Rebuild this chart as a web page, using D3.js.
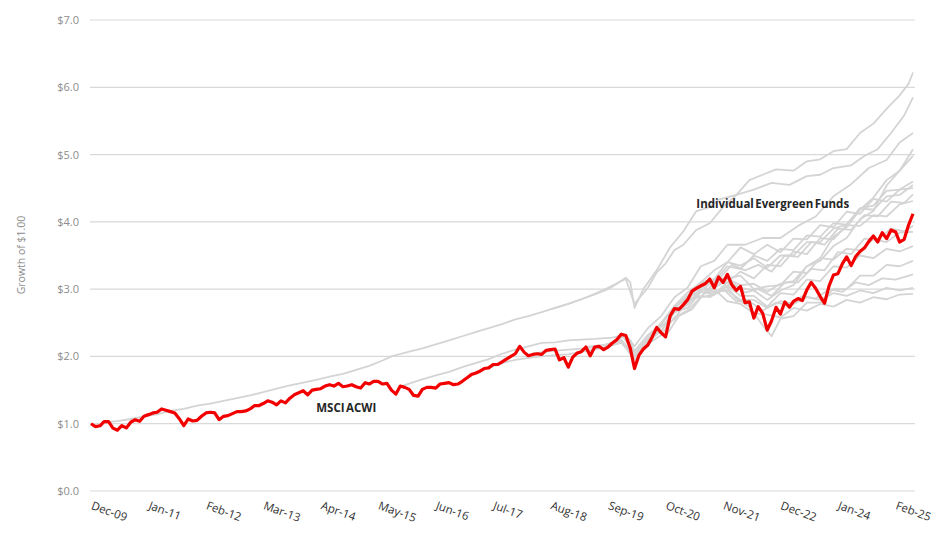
<!DOCTYPE html>
<html>
<head>
<meta charset="utf-8">
<script src="https://cdn.jsdelivr.net/npm/d3@7"></script>
<style>
  html, body { margin: 0; padding: 0; background: #ffffff; }
  svg { display: block; }
</style>
</head>
<body>
<svg id="chart" width="936" height="535"></svg>
<script>
// ---------- DATA ----------
const startMonth = "Dec-09";           // month index 0
const xTickLabels = ["Dec-09","Jan-11","Feb-12","Mar-13","Apr-14","May-15","Jun-16","Jul-17","Aug-18","Sep-19","Oct-20","Nov-21","Dec-22","Jan-24","Feb-25"];
const yTickValues = [0,1,2,3,4,5,6,7];
const yAxisTitle = "Growth of $1.00";
const acwiLabel = "MSCI ACWI";
const fundsLabel = "Individual Evergreen Funds";

// MSCI ACWI, monthly growth of $1, Dec-09 .. Jun-25
const acwi = [
  1.00,
  0.956,0.969,1.030,1.031,0.935,0.904,0.972,0.937,1.022,1.059,1.036,1.112,
  1.135,1.160,1.170,1.220,1.200,1.180,1.160,1.075,0.970,1.070,1.040,1.050,
  1.110,1.160,1.170,1.160,1.060,1.110,1.120,1.150,1.180,1.180,1.190,1.220,
  1.270,1.270,1.300,1.340,1.320,1.280,1.340,1.310,1.380,1.430,1.460,1.490,
  1.430,1.500,1.510,1.520,1.560,1.580,1.560,1.600,1.550,1.560,1.580,1.550,
  1.530,1.610,1.590,1.630,1.630,1.590,1.600,1.500,1.440,1.560,1.540,1.510,
  1.420,1.410,1.510,1.540,1.540,1.530,1.590,1.600,1.610,1.580,1.590,1.630,
  1.680,1.730,1.750,1.780,1.820,1.830,1.880,1.880,1.920,1.960,2.000,2.040,
  2.150,2.060,2.010,2.030,2.040,2.030,2.090,2.100,2.110,1.950,1.980,1.840,
  1.990,2.050,2.070,2.140,2.010,2.140,2.150,2.100,2.140,2.200,2.250,2.330,
  2.310,2.120,1.820,2.020,2.110,2.170,2.290,2.430,2.350,2.290,2.600,2.710,
  2.700,2.770,2.840,2.970,3.010,3.050,3.080,3.150,3.020,3.180,3.100,3.220,
  3.060,2.980,3.040,2.800,2.810,2.570,2.740,2.640,2.390,2.530,2.730,2.630,
  2.810,2.730,2.820,2.860,2.830,2.990,3.100,3.010,2.890,2.790,3.050,3.210,
  3.230,3.380,3.480,3.350,3.480,3.560,3.610,3.710,3.790,3.700,3.840,3.750,
  3.880,3.850,3.700,3.740,3.950,4.120
];

// Individual evergreen funds: [month index from Dec-09, growth of $1]
const fundA = [[3,1.02],[6,1.04],[9,1.07],[12,1.11],[15,1.14],[18,1.19],[21,1.22],[24,1.27],[27,1.30],[30,1.34],[33,1.38],[36,1.42],[39,1.47],[42,1.52],[45,1.57],[48,1.61],[51,1.65],[54,1.70],[57,1.74],[60,1.80],[63,1.86],[66,1.94],[68,2.00],[72,2.07],[75,2.12],[78,2.18],[81,2.24],[84,2.30],[87,2.36],[90,2.42],[93,2.48],[96,2.55],[99,2.60],[102,2.66],[105,2.72],[108,2.78],[111,2.85],[114,2.92],[117,3.00],[119,3.08],[121,3.17],[122,3.10],[123,2.72],[125,3.00],[128,3.28],[131,3.62],[134,3.86],[137,4.16],[140,4.22],[142,4.33],[146,4.40],[150,4.48],[154,4.58],[158,4.55],[162,4.68],[165,4.70],[168,4.80],[172,4.84],[175,4.98],[178,5.08],[181,5.32],[184,5.58],[186,5.85]];
const fundB = [[104,2.70],[108,2.78],[111,2.85],[114,2.93],[117,3.02],[120,3.12],[121,3.15],[123,2.78],[126,3.02],[128,3.25],[130,3.38],[132,3.58],[134,3.66],[137,3.88],[140,3.98],[143,4.22],[146,4.40],[149,4.62],[152,4.70],[155,4.78],[159,4.76],[162,4.90],[165,4.93],[168,5.05],[171,5.08],[174,5.32],[177,5.46],[180,5.68],[183,5.88],[185,6.05],[186,6.22]];
const fundC = [[70,1.55],[74,1.64],[78,1.72],[81,1.77],[84,1.84],[87,1.90],[90,1.96],[93,2.04],[96,2.10],[99,2.15],[102,2.20],[105,2.21],[108,2.24],[111,2.25],[114,2.26],[118,2.28],[121,2.32],[123,2.15],[126,2.42],[129,2.60],[132,2.88],[135,3.02],[138,3.34],[141,3.42],[144,3.66],[148,3.66],[152,3.76],[156,3.76],[160,3.94],[164,4.08],[168,4.38],[172,4.56],[176,4.80],[180,4.92],[183,5.18],[186,5.32]];
const fundD = [[90,1.83],[93,1.90],[96,1.95],[99,1.98],[102,2.00],[105,2.02],[108,2.03],[112,2.08],[116,2.13],[120,2.20],[123,2.00],[126,2.22],[129,2.38],[132,2.65],[135,2.77],[138,2.98],[141,3.02],[144,3.15],[147,3.06],[150,3.08],[153,2.96],[156,3.08],[159,3.12],[162,3.34],[165,3.42],[168,3.64],[171,3.76],[174,4.04],[177,4.16],[180,4.54],[183,4.76],[186,5.08]];
const fundE = [[100,2.04],[104,2.08],[108,2.10],[112,2.12],[116,2.16],[120,2.22],[123,1.95],[126,2.18],[129,2.32],[132,2.58],[135,2.68],[138,2.88],[141,2.92],[144,3.10],[147,3.02],[150,2.98],[153,2.84],[156,2.98],[159,3.06],[162,3.34],[165,3.46],[168,3.78],[171,3.92],[174,4.18],[177,4.36],[180,4.62],[183,4.76],[186,4.98]];
const fundF = [[118,2.20],[121,2.32],[123,2.08],[126,2.32],[129,2.48],[132,2.74],[135,2.85],[138,3.06],[141,3.12],[144,3.34],[147,3.30],[150,3.50],[153,3.42],[156,3.60],[159,3.58],[162,3.80],[165,3.78],[168,3.98],[171,3.96],[174,4.20],[177,4.18],[180,4.38],[183,4.40],[186,4.55]];
const fundG = [[112,2.14],[116,2.17],[120,2.25],[123,2.00],[126,2.25],[129,2.50],[132,2.75],[135,2.95],[138,3.10],[141,3.28],[144,3.40],[147,3.62],[150,3.52],[153,3.66],[156,3.55],[159,3.75],[162,3.74],[165,3.95],[168,3.92],[171,4.15],[174,4.12],[177,4.34],[180,4.30],[183,4.48],[186,4.50]];
const fundH = [[124,2.05],[127,2.35],[130,2.50],[133,2.80],[136,2.86],[139,3.10],[142,3.15],[145,3.36],[148,3.28],[151,3.36],[154,3.26],[157,3.50],[160,3.48],[163,3.70],[166,3.66],[169,3.90],[172,3.88],[175,4.10],[178,4.08],[181,4.30],[184,4.28],[186,4.41]];
const fundI = [[126,2.17],[129,2.45],[132,2.55],[135,2.85],[138,2.88],[141,3.10],[144,3.10],[147,3.26],[150,3.16],[153,3.36],[156,3.34],[159,3.56],[162,3.52],[165,3.76],[168,3.74],[171,3.95],[174,3.94],[177,4.10],[180,4.08],[183,4.26],[186,4.31]];
const fundJ = [[130,2.30],[133,2.60],[136,2.70],[139,2.96],[142,2.95],[145,3.10],[148,2.95],[151,3.00],[154,2.90],[157,3.10],[160,3.10],[163,3.30],[166,3.28],[169,3.55],[172,3.52],[175,3.75],[178,3.74],[181,3.90],[184,3.86],[186,3.94]];
const fundK = [[122,2.25],[123,2.00],[126,2.24],[129,2.38],[132,2.66],[135,2.72],[138,2.96],[141,2.92],[144,3.05],[147,2.90],[150,2.90],[153,2.74],[156,2.94],[159,2.92],[162,3.14],[165,3.12],[168,3.34],[171,3.32],[174,3.50],[177,3.46],[180,3.60],[183,3.56],[186,3.64]];
const fundL = [[128,2.40],[131,2.65],[134,2.76],[137,3.00],[140,2.98],[143,3.10],[146,2.86],[149,2.74],[152,2.46],[154,2.30],[156,2.56],[159,2.60],[162,2.80],[165,2.80],[168,3.00],[171,3.00],[174,3.20],[177,3.20],[180,3.36],[183,3.34],[186,3.42]];
const fundM = [[134,2.75],[137,2.90],[140,2.88],[143,3.00],[146,2.82],[149,2.82],[152,2.68],[155,2.80],[158,2.76],[161,2.90],[164,2.86],[167,3.00],[170,2.96],[173,3.10],[176,3.06],[179,3.16],[182,3.14],[186,3.22]];
const fundN = [[138,3.05],[141,2.96],[144,2.98],[147,2.84],[150,2.84],[153,2.72],[156,2.82],[159,2.78],[162,2.88],[165,2.84],[168,2.94],[171,2.90],[174,2.98],[177,2.94],[180,3.02],[183,2.98],[186,3.02]];
const fundO = [[141,3.00],[144,2.82],[147,2.78],[150,2.64],[153,2.62],[156,2.58],[159,2.72],[162,2.68],[165,2.78],[168,2.74],[171,2.84],[174,2.80],[177,2.88],[180,2.85],[183,2.92],[186,2.93]];
const fundP = [[132,2.70],[135,2.90],[138,2.96],[141,3.15],[144,3.16],[147,3.20],[150,3.00],[153,3.04],[156,3.06],[159,3.26],[162,3.24],[165,3.46],[168,3.44],[171,3.60],[174,3.58],[177,3.74],[180,3.70],[183,3.84],[186,3.85]];
const fundQ = [[120,2.33],[123,2.05],[126,2.28],[129,2.50],[132,2.72],[135,2.90],[138,3.10],[141,3.15],[144,3.40],[147,3.35],[150,3.46],[153,3.32],[156,3.50],[159,3.50],[162,3.70],[165,3.70],[168,3.90],[171,3.96],[174,4.20],[177,4.24],[180,4.46],[183,4.48],[186,4.60]];

const funds = [fundA,fundB,fundC,fundD,fundE,fundF,fundG,fundH,fundI,fundJ,fundK,fundL,fundM,fundN,fundO,fundP,fundQ];

// ---------- CHART ----------
const svg = d3.select("#chart");
const parse = d3.timeParse("%b-%y");
const t0 = parse(startMonth);
const monthDate = m => d3.timeMonth.offset(t0, m);

const x = d3.scaleTime()
  .domain([t0, monthDate(acwi.length - 1)])
  .range([91, 913]);
const y = d3.scaleLinear().domain([0, 7]).range([491, 20]);

const gridColor = "#d9d9d9";

// gridlines
svg.append("g")
  .selectAll("line")
  .data(yTickValues)
  .join("line")
  .attr("x1", 90).attr("x2", 915)
  .attr("y1", d => y(d)).attr("y2", d => y(d))
  .attr("stroke", gridColor).attr("stroke-width", 1.2);

// y axis labels
const yAxis = svg.append("g")
  .attr("transform", "translate(79,0)")
  .call(d3.axisLeft(y).tickValues(yTickValues).tickSize(0).tickPadding(0)
        .tickFormat(d => "$" + d3.format(".1f")(d)));
yAxis.select(".domain").remove();
yAxis.selectAll("text")
  .attr("fill", "#8c8c8c")
  .style("font-family", "'Open Sans', sans-serif")
  .style("font-size", "11px");

// y axis title
svg.append("text")
  .attr("transform", "translate(25,255) rotate(-90)")
  .attr("text-anchor", "middle")
  .attr("fill", "#8c8c8c")
  .style("font-family", "'Open Sans', sans-serif")
  .style("font-size", "10.5px")
  .text(yAxisTitle);

// x axis labels
const xAxis = svg.append("g")
  .attr("transform", "translate(0,500)")
  .call(d3.axisBottom(x).tickValues(xTickLabels.map(parse)).tickSize(0)
        .tickFormat(d3.timeFormat("%b-%y")));
xAxis.select(".domain").remove();
xAxis.selectAll("text")
  .attr("y", 0).attr("dy", "0.75em").attr("x", 2)
  .attr("text-anchor", "start")
  .attr("transform", "rotate(20)")
  .attr("fill", "#333333")
  .style("font-family", "'Open Sans', sans-serif")
  .style("font-size", "11.5px");

// lines
const fundLine = d3.line()
  .x(d => x(monthDate(d[0])))
  .y(d => y(d[1]));

svg.append("g")
  .selectAll("path")
  .data(funds)
  .join("path")
  .attr("d", fundLine)
  .attr("fill", "none")
  .attr("stroke", "#d4d4d4")
  .attr("stroke-width", 1.8)
  .attr("stroke-linejoin", "round");

const acwiLine = d3.line()
  .x((d, i) => x(monthDate(i)))
  .y(d => y(d));

svg.append("path")
  .datum(acwi)
  .attr("d", acwiLine)
  .attr("fill", "none")
  .attr("stroke", "#f20000")
  .attr("stroke-width", 3.2)
  .attr("stroke-linejoin", "round");

// annotations
svg.append("text")
  .attr("x", x(monthDate(51.5)))
  .attr("y", y(1.17))
  .attr("fill", "#262626")
  .style("font-family", "'Open Sans', sans-serif")
  .style("font-weight", "700")
  .style("font-size", "11.5px")
  .style("word-spacing", "-1.5px")
  .text(acwiLabel);

svg.append("text")
  .attr("x", x(monthDate(137.8)))
  .attr("y", y(4.2))
  .attr("fill", "#262626")
  .style("font-family", "'Open Sans', sans-serif")
  .style("font-weight", "700")
  .style("font-size", "11.5px")
  .style("word-spacing", "-1.5px")
  .text(fundsLabel);
</script>
</body>
</html>
